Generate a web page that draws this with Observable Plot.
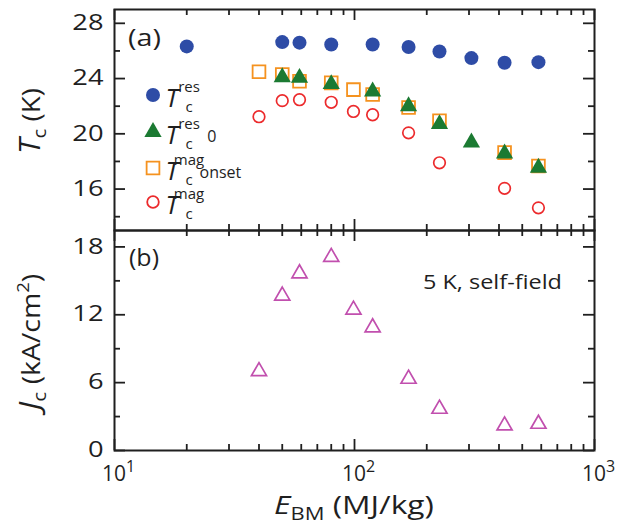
<!DOCTYPE html>
<html>
<head>
<meta charset="utf-8">
<script src="https://cdn.jsdelivr.net/npm/d3@7"></script>
<script src="https://cdn.jsdelivr.net/npm/@observablehq/plot@0.6"></script>
<style>
html,body{margin:0;padding:0;background:#fff;}
#chart{position:relative;width:629px;height:531px;overflow:hidden;background:#fff;}
#chart svg{position:absolute;left:0;top:0;}
</style>
</head>
<body>
<div id="chart"></div>
<script>
// ---------- data ----------
const energyRes = [20, 50, 59, 80, 119, 168, 226, 307, 422, 584];
const tcRes = [26.33, 26.64, 26.6, 26.47, 26.47, 26.28, 25.96, 25.48, 25.14, 25.19];

const energyRes0 = [50, 59, 80, 119, 168, 226, 307, 422, 584];
const tcRes0 = [24.1, 24.05, 23.6, 23.07, 22.0, 20.7, 19.37, 18.57, 17.55];

const energyMag = [40, 50, 59, 80, 99, 119, 168, 226, 422, 584];
const tcMagOnset = [24.5, 24.29, 23.8, 23.69, 23.2, 22.84, 21.9, 20.95, 18.64, 17.67];
const tcMag = [21.24, 22.4, 22.47, 22.28, 21.62, 21.38, 20.07, 17.9, 16.05, 14.64];

const energyJc = [40, 50, 59, 80, 99, 119, 168, 226, 422, 584];
const jc = [7.0, 13.68, 15.65, 17.1, 12.44, 10.88, 6.33, 3.68, 2.2, 2.35];

const tcTicks = [16, 20, 24, 28];
const tcMinorTicks = [14, 18, 22, 26];
const jcTicks = [0, 6, 12, 18];
const jcMinorTicks = [3, 9, 15];
const xTicks = [10, 100, 1000];
const xTickBase = "10";
const xTickExponents = ["1", "2", "3"];
const xMinorTicks = [20, 30, 40, 50, 60, 70, 80, 90, 200, 300, 400, 500, 600, 700, 800, 900];

// ---------- styling ----------
const INK = "#1f1f1f";
const FONT = "'Open Sans', sans-serif";
const BLUE = "#2e4ca6", GREEN = "#1b7a32", ORANGE = "#f5921f", RED = "#ec2a2c", MAGENTA = "#c14fae";
const W = 629, H = 531, ML = 114, MR = 35, FW = W - ML - MR;
const MAJ = 11, MIN = 6;

const zip = (xs, ys) => xs.map((e, i) => ({e, v: ys[i]}));

function boxTicks(yMaj, yMin, fh) {
  const s = {stroke: INK, strokeWidth: 1.8};
  const m = [];
  for (const [arr, len] of [[xTicks, MAJ], [xMinorTicks, MIN]]) {
    m.push(Plot.tickX(arr, {x: d => d, insetTop: fh - len, ...s}));
    m.push(Plot.tickX(arr, {x: d => d, insetBottom: fh - len, ...s}));
  }
  for (const [arr, len] of [[yMaj, MAJ], [yMin, MIN]]) {
    m.push(Plot.tickY(arr, {y: d => d, insetRight: FW - len, ...s}));
    m.push(Plot.tickY(arr, {y: d => d, insetLeft: FW - len, ...s}));
  }
  return m;
}

const topPlot = Plot.plot({
  width: W, height: H,
  marginLeft: ML, marginRight: MR, marginTop: 9, marginBottom: H - 230,
  style: {background: "transparent", fontFamily: FONT, color: INK, overflow: "visible"},
  x: {type: "log", domain: [10, 1000], axis: null},
  y: {domain: [13, 29]},
  marks: [
    ...boxTicks(tcTicks, tcMinorTicks, 221),
    Plot.axisY(tcTicks, {anchor: "left", tickSize: 0, tickPadding: 11, fontSize: 21, label: null}),
    Plot.dot(zip(energyMag, tcMagOnset), {x: "e", y: "v", symbol: "square", r: 7.2, fill: "none", stroke: ORANGE, strokeWidth: 1.8}),
    Plot.dot(zip(energyRes0, tcRes0), {x: "e", y: "v", symbol: "triangle", r: 6.4, fill: GREEN}),
    Plot.dot(zip(energyMag, tcMag), {x: "e", y: "v", symbol: "circle", r: 5.8, fill: "none", stroke: RED, strokeWidth: 1.7}),
    Plot.dot(zip(energyRes, tcRes), {x: "e", y: "v", symbol: "circle", r: 7, fill: BLUE}),
    Plot.frame({stroke: INK, strokeWidth: 2})
  ]
});

const botPlot = Plot.plot({
  width: W, height: H,
  marginLeft: ML, marginRight: MR, marginTop: 230, marginBottom: 81,
  style: {background: "transparent", fontFamily: FONT, color: INK, overflow: "visible"},
  x: {type: "log", domain: [10, 1000]},
  y: {domain: [0, 19.45]},
  marks: [
    ...boxTicks(jcTicks, jcMinorTicks, 220),
    Plot.axisY(jcTicks, {anchor: "left", tickSize: 0, tickPadding: 11, fontSize: 21, label: null}),
    Plot.axisX(xTicks, {anchor: "bottom", tickSize: 0, tickPadding: 16, fontSize: 21, label: null,
      tickFormat: d => xTickBase + xTickExponents[xTicks.indexOf(d)]}),
    Plot.dot(zip(energyJc, jc), {x: "e", y: "v", symbol: "triangle", r: 5.6, fill: "none", stroke: MAGENTA, strokeWidth: 1.7}),
    Plot.frame({stroke: INK, strokeWidth: 2})
  ]
});

const chart = document.getElementById("chart");
chart.appendChild(topPlot);
chart.appendChild(botPlot);

// stretch y tick labels horizontally (reference font is wide)
for (const svg of [topPlot, botPlot]) {
  svg.querySelectorAll('g[aria-label="y-axis tick label"] text').forEach(t => {
    t.setAttribute("transform", (t.getAttribute("transform") || "") + " scale(1.3,1)");
  });
}
// render x tick labels as 10 with a superscript exponent
botPlot.querySelectorAll('g[aria-label="x-axis tick label"] text').forEach(t => {
  const s = t.textContent;
  const base = s.slice(0, xTickBase.length), exp = s.slice(xTickBase.length);
  t.textContent = "";
  const sel = d3.select(t);
  sel.append("tspan").text(base).style("font-size", "21px");
  sel.append("tspan").text(exp).style("font-size", "16px").attr("dy", -9);
  t.setAttribute("transform", (t.getAttribute("transform") || "") + " translate(4,0)");
});

// rich text helper: parts = [{text, size, italic, shift}]
function rich(svg, parts, {x, y, anchor = "start", rotate = 0, width = null}) {
  const t = d3.select(svg).append("text")
    .attr("text-anchor", anchor).attr("fill", INK)
    .style("font-family", FONT);
  let prev = 0;
  for (const p of parts) {
    const sh = p.shift || 0;
    t.append("tspan").text(p.text)
      .attr("font-size", p.size)
      .attr("font-style", p.italic ? "italic" : null)
      .attr("dy", sh - prev);
    prev = sh;
  }
  let sx = 1;
  if (width) {
    const w = t.node().getBBox().width;
    if (w > 0) sx = width / w;
  }
  t.attr("transform", `translate(${x},${y})${rotate ? ` rotate(${rotate})` : ""} scale(${sx},1)`);
  return t;
}

// panel labels
rich(topPlot, [{text: "(a)", size: 23}], {x: 128, y: 46, width: 33});
rich(botPlot, [{text: "(b)", size: 23}], {x: 129, y: 266, width: 30});
rich(botPlot, [{text: "5 K, self-field", size: 20}], {x: 423, y: 289, width: 139});

// axis titles
rich(topPlot, [
  {text: "T", size: 29, italic: true},
  {text: "c", size: 19, shift: 6},
  {text: " (K)", size: 26, shift: 0}
], {x: 40, y: 121, anchor: "middle", rotate: -90, width: 66});

rich(botPlot, [
  {text: "J", size: 29, italic: true},
  {text: "c", size: 19, shift: 6},
  {text: " (kA/cm", size: 26, shift: 0},
  {text: "2", size: 17, shift: -11},
  {text: ")", size: 26, shift: 0}
], {x: 40, y: 342, anchor: "middle", rotate: -90, width: 142});

rich(botPlot, [
  {text: "E", size: 26, italic: true},
  {text: "BM", size: 18, shift: 6},
  {text: " (MJ/kg)", size: 26, shift: 0}
], {x: 354, y: 514, anchor: "middle", width: 160});

// legend
const legend = [
  {sym: d3.symbolCircle, r: 7, fill: BLUE, stroke: "none", sup: "res", sub2: ""},
  {sym: d3.symbolTriangle, r: 6.4, fill: GREEN, stroke: "none", sup: "res", sub2: "0"},
  {sym: d3.symbolSquare, r: 7.2, fill: "none", stroke: ORANGE, sup: "mag", sub2: "onset"},
  {sym: d3.symbolCircle, r: 5.8, fill: "none", stroke: RED, sup: "mag", sub2: ""}
];
const legendRows = [95, 132, 168, 202];
const lg = d3.select(topPlot).append("g");
legend.forEach((L, i) => {
  const y0 = legendRows[i];
  lg.append("path")
    .attr("d", d3.symbol(L.sym, Math.PI * L.r * L.r)())
    .attr("transform", `translate(153,${y0})`)
    .attr("fill", L.fill).attr("stroke", L.stroke).attr("stroke-width", 1.8);
  const txt = (s, x, y, size, italic) => lg.append("text").text(s)
    .attr("x", x).attr("y", y).attr("font-size", size).attr("fill", INK)
    .attr("font-style", italic ? "italic" : null).style("font-family", FONT);
  txt("T", 172, y0 + 12, 26, true);
  txt("c", 189, y0 + 17, 15, false);
  const sup = txt(L.sup, 189, y0 - 3, 15, false);
  if (L.sub2) {
    const w = sup.node().getComputedTextLength();
    txt(L.sub2, 189 + w + 1, y0 + 10, 16, false);
  }
});
</script>
</body>
</html>
